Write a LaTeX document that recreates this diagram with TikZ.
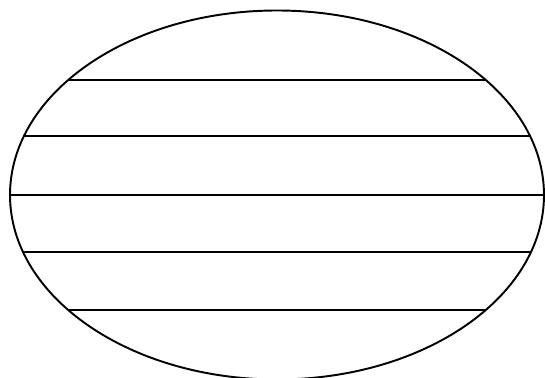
\documentclass[tikz,border=0pt]{standalone}
\begin{document}
\begin{tikzpicture}[x=0.02cm, y=-0.02cm, line width=1.1pt]
            % Page frame
            \useasboundingbox (0,0) rectangle (545,378);

            % Outline of the ellipse
            \coordinate (centre) at (277,195);
            \draw (centre) ellipse [x radius=267, y radius=184.5];

            % Horizontal chords, cut by the ellipse
            \begin{scope}
                \clip (centre) ellipse [x radius=267, y radius=184.5];
                \foreach \y in {80,136,195,252,310} {
                    \draw (0,\y) -- (545,\y);
                }
            \end{scope}
        \end{tikzpicture}
\end{document}
